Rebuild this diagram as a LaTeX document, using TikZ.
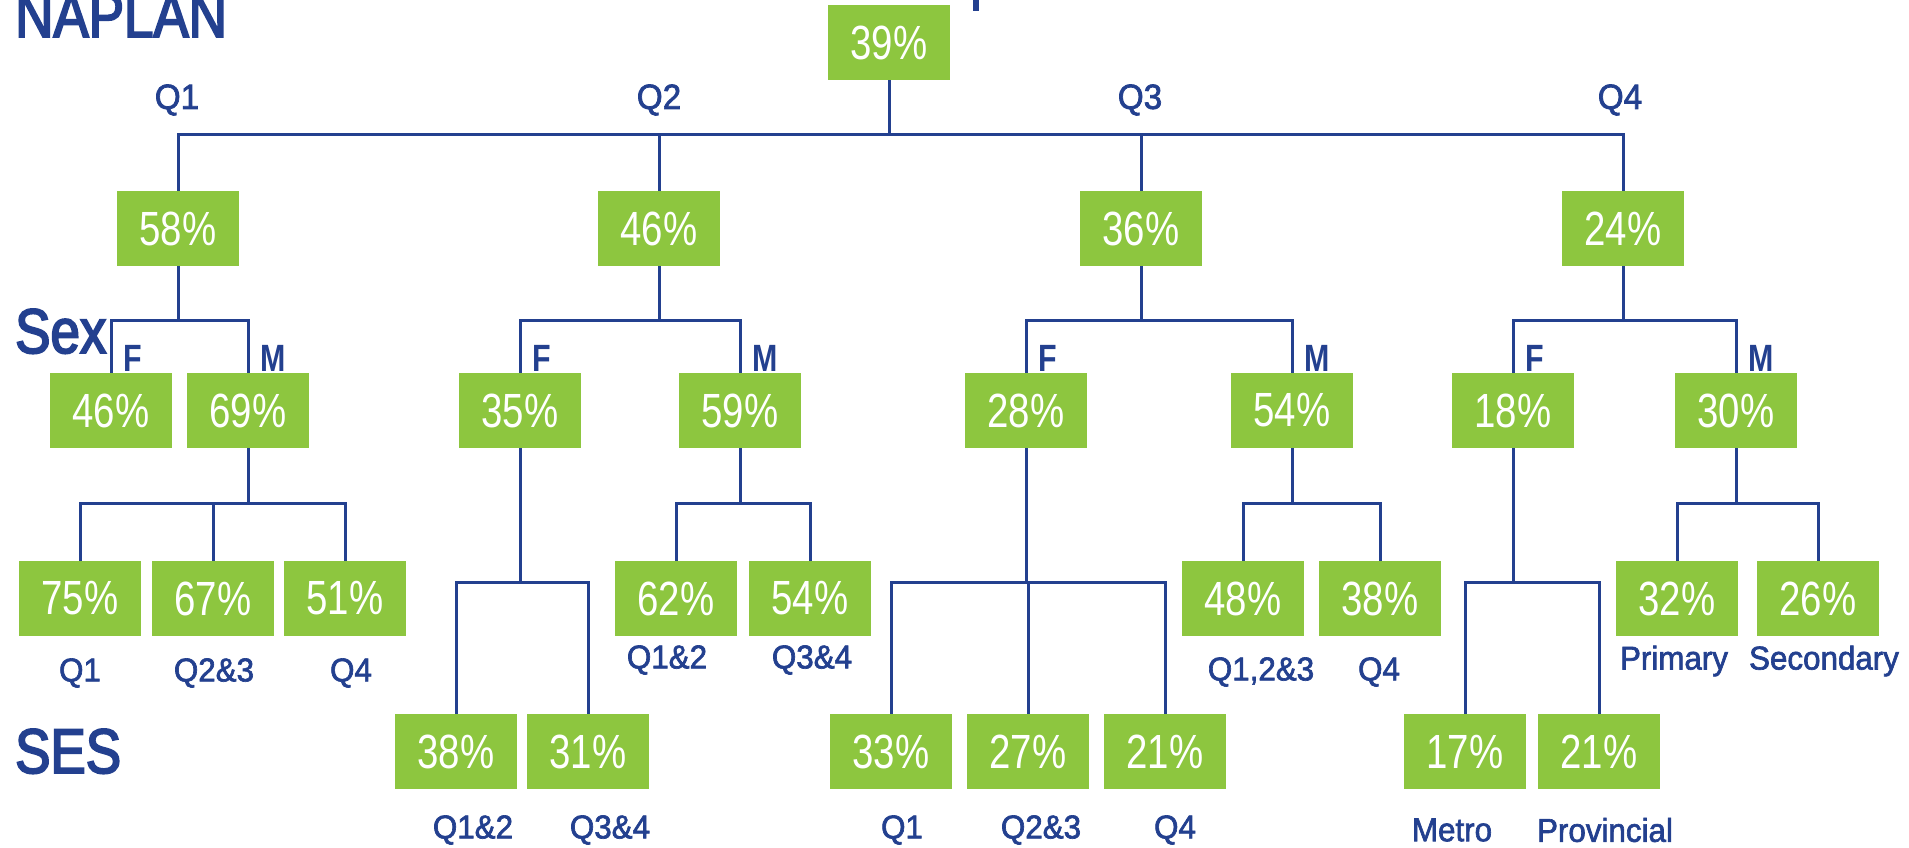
\documentclass[tikz,border=0pt]{standalone}
\usepackage{fontspec}
\setmainfont{Liberation Sans}
\newfontfamily\numfont[FakeStretch=0.8]{Liberation Sans}
\newfontfamily\labfont[FakeStretch=0.95,FakeBold=2]{Liberation Sans}
\newfontfamily\titlefont[FakeStretch=0.84,FakeBold=3]{Liberation Sans}
\newfontfamily\fmfont[FakeStretch=0.8]{Liberation Sans}
\definecolor{boxgreen}{RGB}{141,198,63}
\definecolor{navy}{RGB}{35,64,143}
\tikzset{
  pbox/.style={fill=boxgreen, text=white, minimum width=122pt, minimum height=75pt, inner sep=0pt,
    font=\numfont\fontsize{48}{48}\selectfont},
  conn/.style={draw=navy, line width=3pt},
  lab/.style={text=navy, inner sep=0pt, font=\labfont\fontsize{33}{33}\selectfont},
  qlab/.style={text=navy, inner sep=0pt, font=\labfont\fontsize{35}{35}\selectfont},
  fm/.style={text=navy, inner sep=0pt, anchor=base west, font=\fmfont\bfseries\fontsize{38}{38}\selectfont},
  ttl/.style={text=navy, inner sep=0pt, anchor=base west, font=\titlefont\fontsize{63}{63}\selectfont}
}
\begin{document}
\begin{tikzpicture}[x=1pt,y=-1pt]
\useasboundingbox (0,0) rectangle (1909,848);
% fragment at top
\fill[navy] (973,0) rectangle (979,11);
% titles
\node[ttl] (tnap) at (15,37) {NAPLAN};
\node[ttl] (tsex) at (15,353) {Sex};
\node[ttl] (tses) at (15,773) {SES};
% root
\node[pbox] (root) at (889,42.5) {39\%};
% level 1
\node[pbox] (q1) at (178,228.5) {58\%};
\node[pbox] (q2) at (659,228.5) {46\%};
\node[pbox] (q3) at (1141,228.5) {36\%};
\node[pbox] (q4) at (1623,228.5) {24\%};
\node[qlab] (lq1) at (177,100) {Q1};
\node[qlab] (lq2) at (659,100) {Q2};
\node[qlab] (lq3) at (1140,100) {Q3};
\node[qlab] (lq4) at (1620,100) {Q4};
% level 2
\node[pbox] (q1f) at (111,410.5) {46\%};
\node[pbox] (q1m) at (248,410.5) {69\%};
\node[pbox] (q2f) at (520,410.5) {35\%};
\node[pbox] (q2m) at (740,410.5) {59\%};
\node[pbox] (q3f) at (1026,410.5) {28\%};
\node[pbox] (q3m) at (1292,410.5) {54\%};
\node[pbox] (q4f) at (1513,410.5) {18\%};
\node[pbox] (q4m) at (1736,410.5) {30\%};
\foreach \n in {q1f,q2f,q3f,q4f}{\node[fm] (lab\n) at ([xshift=12pt]\n.north |- 0,371) {F};}
\foreach \n in {q1m,q2m,q3m,q4m}{\node[fm] (lab\n) at ([xshift=12pt]\n.north |- 0,371) {M};}
% level 3a
\node[pbox] (a1) at (80,598.5) {75\%};
\node[pbox] (a2) at (213,598.5) {67\%};
\node[pbox] (a3) at (345,598.5) {51\%};
\node[pbox] (b1) at (676,598.5) {62\%};
\node[pbox] (b2) at (810,598.5) {54\%};
\node[pbox] (c1) at (1243,598.5) {48\%};
\node[pbox] (c2) at (1380,598.5) {38\%};
\node[pbox] (d1) at (1677,598.5) {32\%};
\node[pbox] (d2) at (1818,598.5) {26\%};
\node[lab] (la1) at (80,673) {Q1};
\node[lab] (la2) at (214,673) {Q2\&3};
\node[lab] (la3) at (351,673) {Q4};
\node[lab] (lb1) at (667,660) {Q1\&2};
\node[lab] (lb2) at (812,660) {Q3\&4};
\node[lab] (lc1) at (1261,672) {Q1,2\&3};
\node[lab] (lc2) at (1379,672) {Q4};
\node[lab] (ld1) at (1674,661) {Primary};
\node[lab] (ld2) at (1824,661) {Secondary};
% level 3b
\node[pbox] (e1) at (456,751.5) {38\%};
\node[pbox] (e2) at (588,751.5) {31\%};
\node[pbox] (f1) at (891,751.5) {33\%};
\node[pbox] (f2) at (1028,751.5) {27\%};
\node[pbox] (f3) at (1165,751.5) {21\%};
\node[pbox] (g1) at (1465,751.5) {17\%};
\node[pbox] (g2) at (1599,751.5) {21\%};
\node[lab] (le1) at (473,830) {Q1\&2};
\node[lab] (le2) at (610,830) {Q3\&4};
\node[lab] (lf1) at (902,830) {Q1};
\node[lab] (lf2) at (1041,830) {Q2\&3};
\node[lab] (lf3) at (1175,830) {Q4};
\node[lab] (lg1) at (1452,830) {Metro};
\node[lab] (lg2) at (1605,830) {Provincial};
% connectors
\coordinate (b0) at (889,135);
\draw[conn] (root) -- (b0);
\draw[conn] (q1.north) |- (b0) -| (q4.north);
\draw[conn] (q2.north) -- (q2.north |- b0);
\draw[conn] (q3.north) -- (q3.north |- b0);
\foreach \p/\f/\m in {q1/q1f/q1m, q2/q2f/q2m, q3/q3f/q3m, q4/q4f/q4m}{
  \coordinate (bus\p) at (\p.south |- 0,320);
  \draw[conn] (\p) -- (bus\p);
  \draw[conn] (\f.north) |- (bus\p) -| (\m.north);
}
% q1m -> a1 a2 a3
\coordinate (busq1m) at (q1m.south |- 0,503);
\draw[conn] (q1m) -- (busq1m);
\draw[conn] (a1.north) |- (busq1m) -| (a3.north);
\draw[conn] (a2.north) -- (a2.north |- busq1m);
% q2m -> b1 b2
\coordinate (busq2m) at (q2m.south |- 0,503);
\draw[conn] (q2m) -- (busq2m);
\draw[conn] (b1.north) |- (busq2m) -| (b2.north);
% q3m -> c1 c2
\coordinate (busq3m) at (q3m.south |- 0,503);
\draw[conn] (q3m) -- (busq3m);
\draw[conn] (c1.north) |- (busq3m) -| (c2.north);
% q4m -> d1 d2
\coordinate (busq4m) at (q4m.south |- 0,503);
\draw[conn] (q4m) -- (busq4m);
\draw[conn] (d1.north) |- (busq4m) -| (d2.north);
% q2f -> e1 e2
\coordinate (busq2f) at (q2f.south |- 0,582);
\draw[conn] (q2f) -- (busq2f);
\draw[conn] (e1.north) |- (busq2f) -| (e2.north);
% q3f -> f1 f2 f3
\coordinate (busq3f) at (q3f.south |- 0,582);
\draw[conn] (q3f) -- (busq3f);
\draw[conn] (f1.north) |- (busq3f) -| (f3.north);
\draw[conn] (f2.north) -- (f2.north |- busq3f);
% q4f -> g1 g2
\coordinate (busq4f) at (q4f.south |- 0,582);
\draw[conn] (q4f) -- (busq4f);
\draw[conn] (g1.north) |- (busq4f) -| (g2.north);
\end{tikzpicture}
\end{document}
